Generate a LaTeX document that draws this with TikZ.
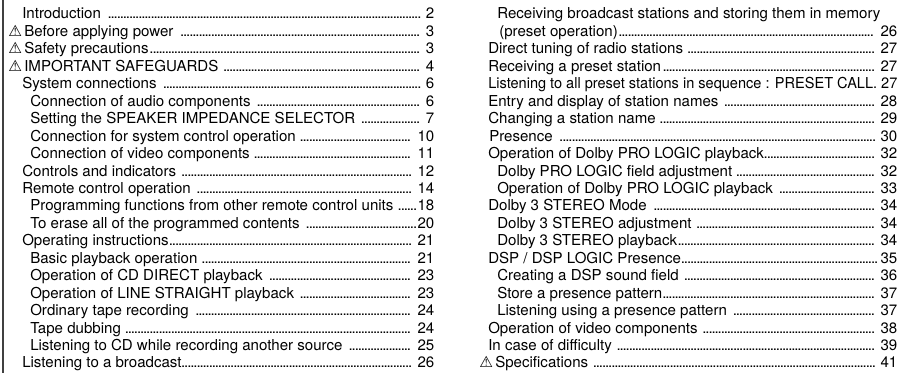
\documentclass[tikz,border=0pt]{standalone}
\usepackage{fontspec}
\usepackage{graphicx}
\setmainfont{TeX Gyre Heros}
\newfontfamily\symfont{DejaVu Sans}
\newcommand\tocdots{\leaders\hbox to 2.3pt{\hss.\hss}\hfill}
\newcommand\tocrow[6]{%
  \pgfmathsetmacro\rowW{(#3-#2)*0.75}%
  \pgfmathsetmacro\rowY{19+17.45*#4}%
  \node[tocentry] (#1) at (#2,\rowY) {\hbox to \rowW pt{#5\tocdots#6}};%
}
\newcommand\tocplain[4]{%
  \pgfmathsetmacro\rowY{19+17.45*#3}%
  \node[tocentry] (#1) at (#2,\rowY) {#4};%
}
\newcommand\tocwarn[3]{%
  \pgfmathsetmacro\rowY{19+17.45*#3}%
  \node[warnmark] (#1) at (#2,\rowY) {\symfont ⚠};%
}
\tikzset{
  tocentry/.style={anchor=base west, inner sep=0pt, font=\fontsize{11.3pt}{13pt}\selectfont, text=black},
  warnmark/.style={anchor=base west, inner sep=0pt, font=\fontsize{11.5pt}{13pt}\selectfont, text=black},
  rule/.style={draw=black!75, line width=0.8pt}
}
\begin{document}
\begin{tikzpicture}[x=0.75pt,y=-0.75pt]
\useasboundingbox (0,0) rectangle (924,373);
\coordinate (lt) at (3,0);
\coordinate (lb) at (3,373);
\draw[rule] (lt) -- (lb);
% left column
\tocrow{l0}{22}{434}{0}{Introduction }{ 2}
\tocwarn{w1}{8}{1}
\tocrow{l1}{24}{434}{1}{Before applying power }{ 3}
\tocwarn{w2}{8}{2}
\tocrow{l2}{24}{434}{2}{Safety precautions}{ 3}
\tocwarn{w3}{8}{3}
\tocrow{l3}{24}{434}{3}{IMPORTANT SAFEGUARDS }{ 4}
\tocrow{l4}{22}{434}{4}{System connections }{ 6}
\tocrow{l5}{30}{434}{5}{Connection of audio components }{ 6}
\tocrow{l6}{30}{434}{6}{Setting the SPEAKER IMPEDANCE SELECTOR }{ 7}
\tocrow{l7}{30}{434}{7}{Connection for system control operation }{ 10}
\tocrow{l8}{30}{434}{8}{Connection of video components }{ 11}
\tocrow{l9}{22}{434}{9}{Controls and indicators }{ 12}
\tocrow{l10}{22}{434}{10}{Remote control operation }{ 14}
\tocrow{l11}{30}{434}{11}{Programming functions from other remote control units }{18}
\tocrow{l12}{30}{434}{12}{To erase all of the programmed contents }{20}
\tocrow{l13}{22}{434}{13}{Operating instructions}{ 21}
\tocrow{l14}{30}{434}{14}{Basic playback operation }{ 21}
\tocrow{l15}{30}{434}{15}{Operation of CD DIRECT playback }{ 23}
\tocrow{l16}{30}{434}{16}{Operation of LINE STRAIGHT playback }{ 23}
\tocrow{l17}{30}{434}{17}{Ordinary tape recording }{ 24}
\tocrow{l18}{30}{434}{18}{Tape dubbing }{ 24}
\tocrow{l19}{30}{434}{19}{Listening to CD while recording another source }{ 25}
\tocrow{l20}{22}{434}{20}{Listening to a broadcast}{ 26}
% right column
\tocplain{r0}{497}{0}{Receiving broadcast stations and storing them in memory}
\tocrow{r1}{499}{897}{1}{(preset operation)}{ 26}
\tocrow{r2}{488}{897}{2}{Direct tuning of radio stations }{ 27}
\tocrow{r3}{488}{897}{3}{Receiving a preset station}{ 27}
\tocplain{r4}{488}{4}{\scalebox{0.965}[1]{Listening to all preset stations in sequence : PRESET CALL. 27}}
\tocrow{r5}{488}{897}{5}{Entry and display of station names }{ 28}
\tocrow{r6}{488}{897}{6}{Changing a station name }{ 29}
\tocrow{r7}{489}{897}{7}{Presence }{ 30}
\tocrow{r8}{488}{897}{8}{Operation of Dolby PRO LOGIC playback}{ 32}
\tocrow{r9}{497}{897}{9}{Dolby PRO LOGIC field adjustment }{ 32}
\tocrow{r10}{497}{897}{10}{Operation of Dolby PRO LOGIC playback }{ 33}
\tocrow{r11}{488}{897}{11}{Dolby 3 STEREO Mode }{ 34}
\tocrow{r12}{497}{897}{12}{Dolby 3 STEREO adjustment }{ 34}
\tocrow{r13}{497}{897}{13}{Dolby 3 STEREO playback}{ 34}
\tocrow{r14}{488}{897}{14}{DSP / DSP LOGIC Presence}{35}
\tocrow{r15}{497}{897}{15}{Creating a DSP sound field }{ 36}
\tocrow{r16}{497}{897}{16}{Store a presence pattern}{ 37}
\tocrow{r17}{497}{897}{17}{Listening using a presence pattern }{ 37}
\tocrow{r18}{488}{897}{18}{Operation of video components }{ 38}
\tocrow{r19}{488}{897}{19}{In case of difficulty }{ 39}
\tocwarn{w20}{479}{20}
\tocrow{r20}{495}{897}{20}{Specifications }{ 41}
\end{tikzpicture}
\end{document}
